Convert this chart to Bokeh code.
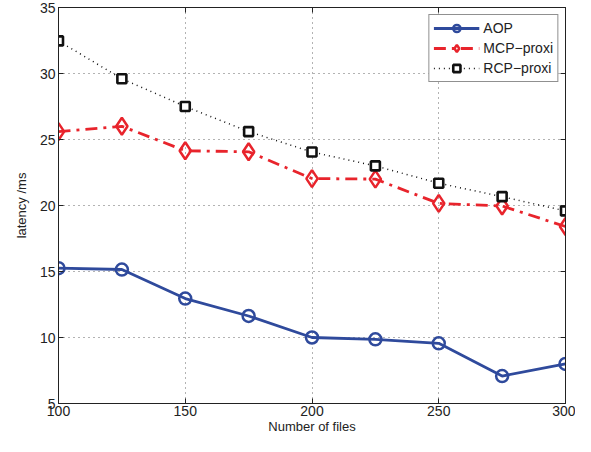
from bokeh.plotting import figure
from bokeh.models import LinearAxis, Legend, LegendItem, FixedTicker, Range1d
from bokeh.embed import file_html
from bokeh.resources import INLINE

files = [100, 125, 150, 175, 200, 225, 250, 275, 300]
aop = [15.25, 15.15, 12.95, 11.63, 10.0, 9.86, 9.56, 7.08, 8.0]
mcp = [25.6, 26.0, 24.15, 24.07, 22.04, 22.0, 20.16, 19.96, 18.41]
rcp = [32.47, 29.6, 27.5, 25.6, 24.05, 23.0, 21.69, 20.67, 19.59]

x_ticks = [100, 150, 200, 250, 300]
y_ticks = [5, 10, 15, 20, 25, 30, 35]

FONT = "Liberation Sans"

p = figure(width=575, height=436, output_backend="svg", toolbar_location=None,
           x_range=Range1d(100, 300), y_range=Range1d(5, 35),
           min_border_left=58, min_border_right=10, min_border_top=7, min_border_bottom=30)
p.outline_line_color = "#222222"
p.outline_line_width = 1

for ax in (p.xaxis[0], p.yaxis[0]):
    ax.major_tick_in = 5
    ax.major_tick_out = 0
    ax.minor_tick_in = 0
    ax.minor_tick_out = 0
    ax.axis_line_color = "#222222"
    ax.major_tick_line_color = "#222222"
    ax.major_label_text_font = FONT
    ax.major_label_text_font_size = "14px"
    ax.major_label_text_color = "#222222"
    ax.axis_label_text_font = FONT
    ax.axis_label_text_font_size = "13px"
    ax.axis_label_text_font_style = "normal"
    ax.axis_label_text_color = "#222222"

p.xaxis[0].ticker = FixedTicker(ticks=x_ticks)
p.yaxis[0].ticker = FixedTicker(ticks=y_ticks)
p.xaxis[0].axis_label = "Number of files"
p.yaxis[0].axis_label = "latency /ms"
p.xaxis[0].axis_label_standoff = 0
p.yaxis[0].axis_label_standoff = 8
p.xaxis[0].major_label_standoff = 2
p.yaxis[0].major_label_standoff = 3

# box ticks on top/right
for loc, tk in (("above", x_ticks), ("right", y_ticks)):
    a = LinearAxis(ticker=FixedTicker(ticks=tk), major_tick_in=5, major_tick_out=0,
                   minor_tick_in=0, minor_tick_out=0, major_label_text_font_size="0px",
                   axis_line_color="#222222", major_tick_line_color="#222222")
    a.major_label_text_alpha = 0
    p.add_layout(a, loc)

p.xgrid.ticker = FixedTicker(ticks=x_ticks)
p.ygrid.ticker = FixedTicker(ticks=y_ticks)
for g in (p.xgrid, p.ygrid):
    g.grid_line_color = "#666666"
    g.grid_line_dash = "1 4"
    g.grid_line_width = 1

blue = "#2f4a9c"
red = "#e8242c"

l1 = p.line(files, aop, line_color=blue, line_width=2.8)
m1 = p.scatter(files, aop, marker="circle", size=12, fill_color=None,
               line_color=blue, line_width=2.5)
l2 = p.line(files, mcp, line_color=red, line_width=2.8, line_dash="12 6 3 6")
m2 = p.scatter(files, mcp, marker="diamond", size=17, fill_color=None,
               line_color=red, line_width=2.5)
l3 = p.line(files, rcp, line_color="#111111", line_width=1.5, line_dash="1 4")
m3 = p.scatter(files, rcp, marker="square", size=9, fill_color="white",
               line_color="#111111", line_width=2.6)

legend = Legend(items=[
    LegendItem(label="AOP", renderers=[l1, m1]),
    LegendItem(label="MCP\u2212proxi", renderers=[l2, m2]),
    LegendItem(label="RCP\u2212proxi", renderers=[l3, m3]),
], location="top_right")
legend.label_text_font = FONT
legend.label_text_font_size = "14px"
legend.label_text_color = "#222222"
legend.glyph_width = 46
legend.glyph_height = 18
legend.label_height = 18
legend.spacing = 2
legend.padding = 4
legend.margin = 7
legend.label_standoff = 4
legend.border_line_color = "#222222"
legend.border_line_width = 1
legend.background_fill_color = "white"
legend.background_fill_alpha = 1
p.add_layout(legend, "center")

open("out.html", "w").write(file_html(p, INLINE))
